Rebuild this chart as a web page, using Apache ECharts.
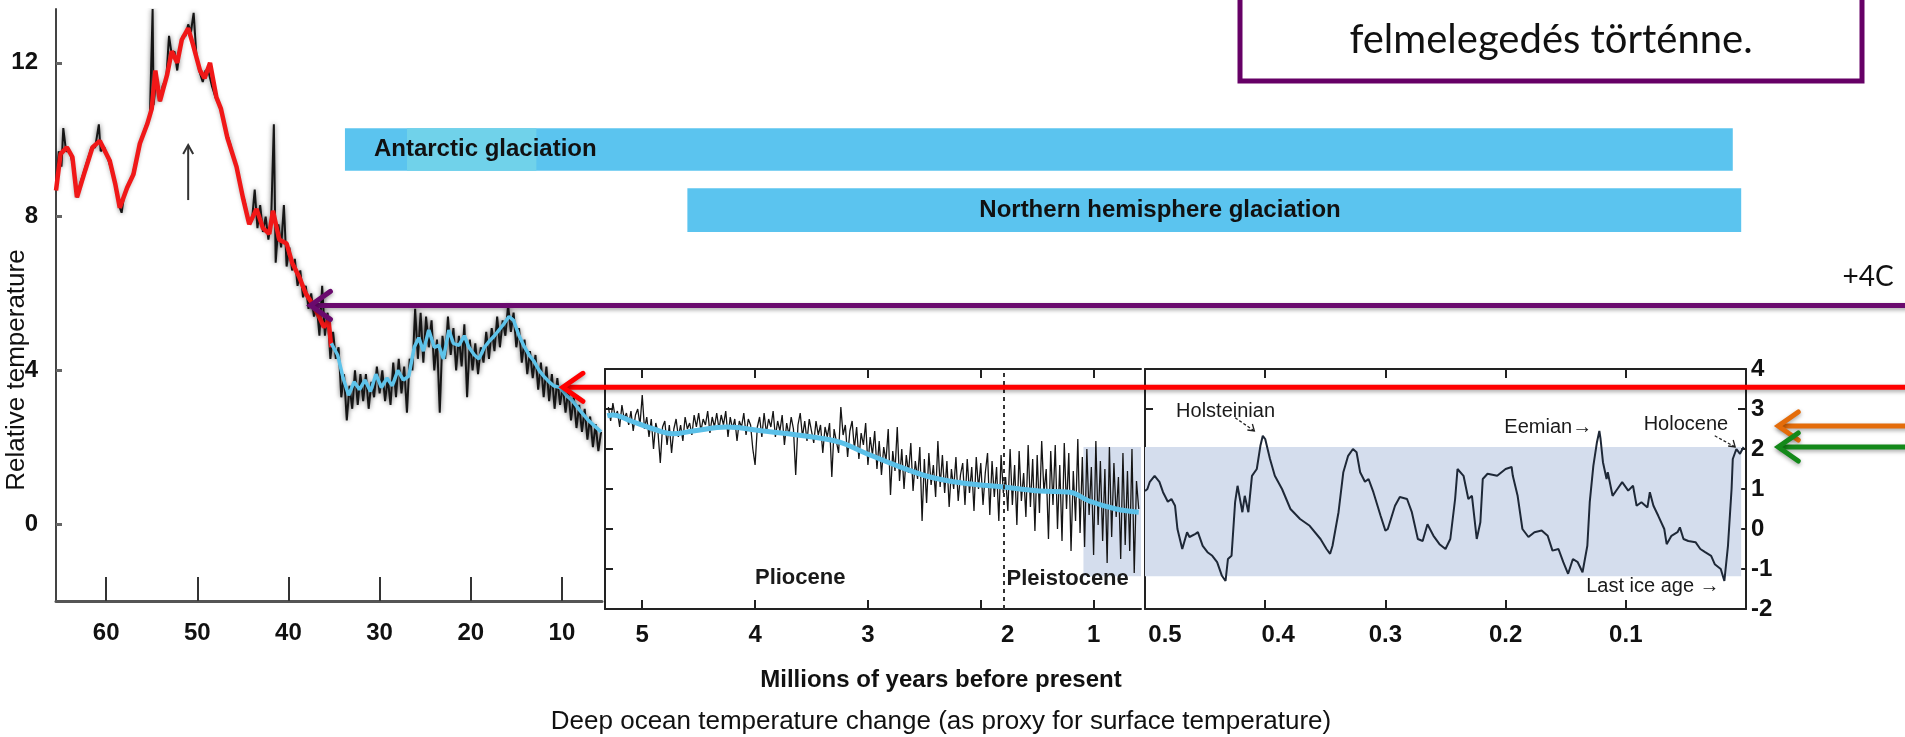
<!DOCTYPE html>
<html><head><meta charset="utf-8">
<script src="https://cdn.jsdelivr.net/npm/echarts@6/dist/echarts.min.js"></script>
<style>html,body{margin:0;padding:0;background:#fff;}#c{width:1905px;height:737px;}</style>
</head><body><div id="c"></div>
<script>
// ---------------- DATA ----------------
// Left panel (65 -> 6 Ma), deep ocean temperature
const leftTicks = [10, 20, 30, 40, 50, 60];
const leftYTicks = [0, 4, 8, 12];
const leftRed = [[65.5,8.68],[65.0,9.63],[64.3,9.8],[63.7,9.55],[63.2,8.5],[62.3,9.2],[61.5,9.8],[60.7,9.97],[59.6,9.45],[59.0,8.85],[58.5,8.23],[57.7,8.75],[57.0,9.1],[56.3,9.9],[55.5,10.4],[55.0,10.8],[54.6,11.8],[54.1,11.0],[53.3,11.7],[52.8,12.3],[52.2,12.0],[51.7,12.6],[51.0,12.9],[50.5,12.5],[49.7,11.8],[49.2,11.6],[48.6,12.0],[47.9,11.1],[47.4,10.8],[46.7,10.05],[45.7,9.3],[45.0,8.5],[44.3,7.8],[43.5,8.2],[42.8,7.7],[42.1,7.55],[41.7,8.15],[41.0,7.4],[40.2,7.3],[39.6,6.8],[38.8,6.42],[38.1,6.0],[37.4,5.74],[36.6,5.38],[36.1,5.12],[35.6,5.3],[35.3,4.6]];
const leftBlue = [[35.3,4.7],[34.6,4.4],[34.0,3.8],[33.4,3.35],[32.8,3.7],[32.2,3.5],[31.6,3.75],[31.0,3.45],[30.4,3.9],[29.8,3.55],[29.2,3.8],[28.6,3.6],[28.0,4.0],[27.4,3.75],[26.8,3.85],[26.2,4.6],[25.7,4.85],[25.2,4.5],[24.6,5.05],[24.0,4.6],[23.5,4.65],[23.0,4.3],[22.4,5.05],[21.9,4.7],[21.3,4.65],[20.7,4.9],[20.2,4.6],[19.6,4.4],[19.1,4.3],[18.5,4.6],[18.0,4.75],[17.4,4.9],[16.9,5.05],[16.4,5.2],[15.8,5.4],[15.3,5.3],[14.7,4.9],[14.2,4.65],[13.6,4.4],[13.1,4.25],[12.5,4.0],[12.0,3.85],[11.4,3.7],[10.9,3.6],[10.2,3.55],[9.5,3.35],[8.8,3.2],[8.0,2.95],[7.1,2.7],[6.4,2.55],[5.7,2.4]];
const leftRaw = [[65.5,8.7],[65.2,9.7],[64.9,9.3],[64.7,10.3],[64.4,9.7],[64.0,9.7],[63.6,9.3],[63.2,8.5],[62.8,8.9],[62.4,9.2],[62.0,9.5],[61.6,9.8],[61.2,9.8],[60.8,10.4],[60.6,9.7],[60.2,9.8],[59.8,9.5],[59.4,9.2],[59.0,8.9],[58.6,8.3],[58.3,8.1],[58.0,8.6],[57.6,8.8],[57.2,9.0],[56.8,9.4],[56.4,9.8],[56.0,10.1],[55.6,10.4],[55.2,10.6],[54.9,13.4],[54.8,10.9],[54.5,11.6],[54.1,11.0],[53.8,11.4],[53.4,11.6],[53.1,12.7],[52.8,12.2],[52.5,12.3],[52.2,11.8],[51.9,12.4],[51.6,12.7],[51.3,12.7],[51.0,13.0],[50.7,12.8],[50.4,13.3],[50.1,12.2],[49.8,11.8],[49.4,11.5],[49.1,11.8],[48.8,11.8],[48.4,11.4],[48.0,11.1],[47.6,10.9],[47.2,10.6],[46.8,10.2],[46.4,9.9],[46.0,9.5],[45.6,9.2],[45.2,8.7],[44.8,8.4],[44.4,7.9],[44.0,7.9],[43.7,8.7],[43.4,7.7],[43.1,8.3],[42.8,7.6],[42.5,8.0],[42.2,7.4],[41.9,7.9],[41.6,10.4],[41.4,6.8],[41.1,7.8],[40.8,7.2],[40.5,8.3],[40.2,6.7],[39.9,7.2],[39.6,6.6],[39.3,6.9],[39.0,6.2],[38.7,6.6],[38.4,5.9],[38.1,6.2],[37.8,5.6],[37.5,6.0],[37.2,5.4],[36.9,5.7],[36.6,4.9],[36.3,6.2],[36.0,4.9],[35.7,5.5],[35.4,4.3],[35.1,5.0],[34.8,4.3],[34.5,4.6],[34.2,3.3],[33.9,3.9],[33.6,2.7],[33.3,3.6],[33.0,3.0],[32.7,4.0],[32.4,3.1],[32.1,3.9],[31.8,3.2],[31.5,3.9],[31.2,3.0],[30.9,3.7],[30.6,3.3],[30.3,4.1],[30.0,3.4],[29.7,4.0],[29.4,3.2],[29.1,3.8],[28.8,3.1],[28.5,4.2],[28.2,3.3],[27.9,4.3],[27.6,3.4],[27.3,4.1],[27.0,2.9],[26.7,4.3],[26.4,4.0],[26.1,5.6],[25.8,4.3],[25.5,5.5],[25.2,4.2],[24.9,5.4],[24.6,4.6],[24.3,5.3],[24.0,4.0],[23.7,4.8],[23.4,2.9],[23.1,4.9],[22.8,4.3],[22.5,5.4],[22.2,4.4],[21.9,5.1],[21.6,4.0],[21.3,4.9],[21.0,4.1],[20.7,5.2],[20.4,3.3],[20.1,4.8],[19.8,4.0],[19.5,4.7],[19.2,3.9],[18.9,4.6],[18.6,4.2],[18.3,5.0],[18.0,4.3],[17.7,5.1],[17.4,4.5],[17.1,5.4],[16.8,4.6],[16.5,5.3],[16.2,4.9],[15.9,5.7],[15.6,5.0],[15.3,5.5],[15.0,4.6],[14.7,5.1],[14.4,4.2],[14.1,4.8],[13.8,3.9],[13.5,4.5],[13.2,3.8],[12.9,4.4],[12.6,3.5],[12.3,4.2],[12.0,3.3],[11.7,4.1],[11.4,3.2],[11.1,3.9],[10.8,3.0],[10.5,3.8],[10.2,3.1],[9.9,3.6],[9.6,2.9],[9.3,3.5],[9.0,2.7],[8.7,3.3],[8.4,2.5],[8.1,3.1],[7.8,2.4],[7.5,3.0],[7.2,2.2],[6.9,2.8],[6.6,2.0],[6.3,2.6],[6.0,1.9],[5.7,2.4]];

// Middle panel (5.3 -> 0.6 Ma)
const midTicks = [1, 2, 3, 4, 5];
const midYTicks = [-1, 0, 1, 2, 3];
const midBlue = [[5.31,2.83],[5.26,2.85],[5.1,2.7],[4.9,2.5],[4.73,2.38],[4.55,2.45],[4.25,2.55],[3.93,2.45],[3.49,2.3],[3.25,2.17],[3.04,1.92],[2.74,1.58],[2.45,1.3],[2.16,1.15],[1.8,1.05],[1.48,0.95],[1.21,0.92],[1.04,0.7],[0.8,0.5],[0.6,0.42]];
const midRawStart = 5.30, midRawStep = 0.02; // sampling of the raw record (Ma)
const midRaw = [
  3.05,2.7,3.15,2.8,2.95,2.55,3.1,2.75,2.9,2.6,
  2.95,2.45,2.85,3.0,2.6,3.35,2.5,2.8,2.3,2.75,
  2.0,2.65,2.4,1.65,2.55,2.7,2.1,2.6,1.9,2.5,
  2.75,2.3,2.6,2.2,2.8,2.5,2.65,2.35,2.85,2.55,
  2.9,2.45,2.75,2.6,2.95,2.4,2.8,2.55,2.9,2.5,
  2.85,2.6,2.95,2.3,2.8,2.5,2.75,2.2,2.7,2.55,
  2.9,2.35,2.75,2.6,2.0,1.6,2.55,2.8,2.3,2.9,
  2.4,2.75,2.55,2.95,2.3,2.7,2.45,2.85,2.1,2.65,
  2.35,2.8,2.5,1.35,2.6,2.9,2.3,2.7,2.2,2.75,
  2.45,2.15,2.7,2.35,2.6,1.9,2.55,2.3,2.65,1.3,
  2.5,2.2,1.9,3.05,2.35,2.6,1.8,2.45,2.7,2.0,
  2.55,1.75,2.4,2.1,2.65,1.6,2.3,1.85,2.45,1.5,
  2.2,1.35,2.05,1.7,2.5,0.85,1.95,1.45,2.55,1.2,
  2.0,1.0,1.85,1.4,2.15,0.95,1.7,1.25,2.05,0.2,
  1.75,0.65,1.9,1.1,1.6,0.8,2.2,1.05,1.85,0.9,
  1.7,0.55,1.5,1.0,1.8,0.7,1.35,1.65,0.6,1.75,
  0.9,1.55,0.45,1.8,1.0,1.65,0.6,1.4,1.9,0.35,
  1.7,0.8,1.55,0.2,1.85,0.9,1.3,0.45,2.0,0.6,
  1.6,0.1,1.95,0.7,1.4,0.3,2.1,0.55,1.75,-0.05,
  1.85,0.4,2.2,0.9,1.5,-0.25,1.95,0.6,2.1,0.0,
  1.6,-0.3,2.15,0.5,1.9,-0.55,1.45,0.2,2.25,-0.1,
  1.8,-0.45,2.0,0.35,1.55,-0.65,2.2,0.1,1.7,-0.3,
  1.5,-0.85,2.05,-0.2,1.65,0.3,1.3,-0.75,1.9,-0.4,
  1.45,-0.55,2.0,-1.1,1.2,0.5];
const pleistoceneBoundary = 1.8;

// Right panel (0.5 -> 0 Ma)
const rightTicks = [0.1, 0.2, 0.3, 0.4];
const rightLabels = [0.1, 0.2, 0.3, 0.4, 0.5];
const rightYLabels = [-2, -1, 0, 1, 2, 3, 4];
const rightLine = [[0.5,0.95],[0.498,1.0],[0.496,1.18],[0.492,1.33],[0.488,1.18],[0.485,0.92],[0.481,0.68],[0.478,0.75],[0.475,0.58],[0.473,0.0],[0.469,-0.5],[0.465,-0.08],[0.463,-0.2],[0.458,-0.12],[0.456,-0.08],[0.452,-0.42],[0.448,-0.58],[0.444,-0.67],[0.44,-0.83],[0.436,-1.17],[0.433,-1.3],[0.431,-0.75],[0.428,-0.67],[0.425,0.68],[0.423,1.08],[0.419,0.42],[0.417,0.83],[0.414,0.42],[0.411,1.33],[0.407,1.5],[0.404,2.08],[0.402,2.33],[0.4,2.25],[0.396,1.75],[0.392,1.33],[0.386,1.0],[0.379,0.5],[0.371,0.25],[0.363,0.08],[0.354,-0.25],[0.349,-0.5],[0.346,-0.62],[0.344,-0.42],[0.339,0.42],[0.335,1.42],[0.331,1.83],[0.327,2.0],[0.324,1.92],[0.321,1.42],[0.317,1.18],[0.314,1.25],[0.31,0.92],[0.304,0.33],[0.3,-0.04],[0.298,0.0],[0.292,0.58],[0.288,0.8],[0.282,0.75],[0.278,0.42],[0.273,-0.25],[0.269,-0.3],[0.265,0.12],[0.26,-0.17],[0.255,-0.38],[0.25,-0.5],[0.246,-0.25],[0.242,0.75],[0.24,1.5],[0.235,1.33],[0.231,0.75],[0.228,0.83],[0.224,-0.25],[0.221,0.17],[0.219,1.25],[0.215,1.38],[0.207,1.33],[0.2,1.5],[0.195,1.55],[0.194,1.33],[0.19,0.83],[0.186,0.0],[0.181,-0.2],[0.176,-0.08],[0.17,-0.04],[0.165,-0.17],[0.161,-0.54],[0.156,-0.5],[0.152,-0.83],[0.148,-1.12],[0.144,-0.75],[0.14,-0.83],[0.136,-1.08],[0.132,-0.42],[0.13,0.67],[0.127,1.58],[0.124,2.17],[0.122,2.45],[0.121,2.25],[0.119,1.67],[0.116,1.25],[0.115,1.42],[0.111,0.83],[0.107,1.0],[0.103,1.17],[0.098,0.96],[0.094,1.08],[0.091,0.58],[0.087,0.67],[0.082,0.54],[0.08,0.92],[0.077,0.58],[0.073,0.33],[0.068,0.0],[0.066,-0.38],[0.062,-0.17],[0.057,-0.08],[0.055,0.04],[0.052,-0.25],[0.048,-0.3],[0.042,-0.33],[0.038,-0.5],[0.034,-0.58],[0.029,-0.67],[0.026,-0.88],[0.021,-1.0],[0.018,-1.3],[0.015,-0.42],[0.012,1.0],[0.011,1.75],[0.008,2.0],[0.005,1.88],[0.002,2.05]];

// Shaded band (glacial-interglacial range)
const shadeRange = {top: 2.05, bottom: -1.18, midFrom: 1.09, rightTo: 0.004};

// Glaciation bars (start/end as [gridIndex, age]; y in left-panel units)
const glacNames = ['Antarctic glaciation', 'Northern hemisphere glaciation'];
const glacStart = [[0, 33.8], [1, 4.6]];
const glacEnd = [[2, 0.011], [2, 0.004]];
const glacY = [[10.30, 9.19], [8.74, 7.60]];
const glacPatch = [27.0, 12.8];

// Reference arrows
const arrowColors = ['#6a0a6e', '#ff0000', '#e46c0a', '#14891a'];
const arrowGrid = [0, 0, 2, 2];
const arrowTip = [37.7, 10.0, -0.026, -0.026];
const arrowLevel = [5.69, 3.56, 2.575, 2.05];

// Event labels in the right/middle panels
const eventLabels = [
  ['Holsteinian', 2, 0.433, 2.95, 'center', 'normal'],
  ['Eemian\u2192', 2, 0.128, 2.55, 'right', 'normal'],
  ['Holocene', 2, 0.05, 2.62, 'center', 'normal'],
  ['Last ice age \u2192', 2, 0.022, -1.43, 'right', 'normal'],
  ['Pliocene', 1, 3.6, -1.22, 'center', 'bold'],
  ['Pleistocene', 1, 1.23, -1.25, 'center', 'bold']
];

// ---------------- CHART ----------------
const FONT = '"Liberation Sans", Arial, sans-serif';
const chart = echarts.init(document.getElementById('c'), null, {renderer: 'canvas'});
const lbl = {fontSize: 24, fontWeight: 'bold', color: '#111', fontFamily: FONT};

const midRawPairs = midRaw.map((v, i) => [+(midRawStart - i * midRawStep).toFixed(3), v]);

function xAxisBase(grid, min, max, ticks, labels, pos, extra) {
  return Object.assign({
    gridIndex: grid, type: 'value', inverse: true, min: min, max: max, position: pos,
    axisLine: {show: true, onZero: false, lineStyle: {color: '#222', width: 2}},
    axisTick: {show: true, inside: true, length: 9, customValues: ticks, lineStyle: {color: '#222', width: 2}},
    axisLabel: labels ? Object.assign({show: true, customValues: labels, margin: 14}, lbl) : {show: false},
    splitLine: {show: false}
  }, extra || {});
}
function yAxisBase(grid, pos, ticks, labels, extra) {
  return Object.assign({
    gridIndex: grid, type: 'value', min: -2, max: 4, position: pos,
    axisLine: {show: true, onZero: false, lineStyle: {color: '#222', width: 2}},
    axisTick: {show: true, inside: true, length: 8, customValues: ticks, lineStyle: {color: '#222', width: 2}},
    axisLabel: labels ? Object.assign({show: true, customValues: labels, margin: 5}, lbl) : {show: false},
    splitLine: {show: false}
  }, extra || {});
}

const option = {
  animation: false,
  backgroundColor: '#fff',
  grid: [
    {left: 56, top: 9, width: 546, height: 592},
    {left: 605, top: 369, width: 536, height: 240},
    {left: 1145, top: 369, width: 601, height: 240}
  ],
  xAxis: [
    {gridIndex: 0, type: 'value', inverse: true, min: 5.6, max: 65.5, position: 'bottom',
     axisLine: {show: true, onZero: false, lineStyle: {color: '#555', width: 3}},
     axisTick: {show: true, inside: true, length: 24, customValues: leftTicks, lineStyle: {color: '#333', width: 2}},
     axisLabel: Object.assign({customValues: leftTicks, margin: 20}, lbl),
     splitLine: {show: false}},
    xAxisBase(1, 0.58, 5.33, midTicks, midTicks, 'bottom', {
      axisLabel: Object.assign({customValues: midTicks, margin: 14,
        formatter: v => v === 2 ? '{s|2}' : String(v),
        rich: {s: Object.assign({padding: [0, 0, 0, 54]}, lbl)}}, lbl)}),
    xAxisBase(1, 0.58, 5.33, midTicks, null, 'top'),
    xAxisBase(2, 0, 0.5, rightTicks, rightLabels, 'bottom', {
      axisLabel: Object.assign({customValues: rightLabels, margin: 14,
        formatter: v => { const t = v.toFixed(1); return v > 0.45 ? '{a|' + t + '}' : (v > 0.35 ? '{b|' + t + '}' : t); },
        rich: {a: Object.assign({padding: [0, 0, 0, 40]}, lbl), b: Object.assign({padding: [0, 0, 0, 26]}, lbl)}}, lbl)}),
    xAxisBase(2, 0, 0.5, rightTicks, null, 'top')
  ],
  yAxis: [
    {gridIndex: 0, type: 'value', min: -2, max: 13.4, position: 'left',
     axisLine: {show: true, onZero: false, lineStyle: {color: '#444', width: 2}},
     axisTick: {show: true, inside: true, length: 6, customValues: leftYTicks, lineStyle: {color: '#666', width: 3}},
     axisLabel: Object.assign({customValues: leftYTicks, margin: 18}, lbl),
     splitLine: {show: false}},
    yAxisBase(1, 'left', midYTicks, null),
    yAxisBase(2, 'left', midYTicks, null),
    yAxisBase(2, 'right', midYTicks, rightYLabels)
  ],
  series: [
    {type: 'line', xAxisIndex: 0, yAxisIndex: 0, data: leftRaw, symbol: 'none', z: 2,
     lineStyle: {color: '#151515', width: 2, shadowBlur: 5, shadowColor: 'rgba(0,0,0,0.6)'}},
    {type: 'line', xAxisIndex: 0, yAxisIndex: 0, data: leftRed, symbol: 'none', z: 3,
     lineStyle: {color: '#f01818', width: 4.5}},
    {type: 'line', xAxisIndex: 0, yAxisIndex: 0, data: leftBlue, symbol: 'none', z: 3,
     lineStyle: {color: '#5ec3ea', width: 3.5}},
    {type: 'line', xAxisIndex: 1, yAxisIndex: 1, data: midRawPairs, symbol: 'none', z: 2,
     lineStyle: {color: '#151515', width: 1.3},
     markArea: {silent: true, itemStyle: {color: '#d4dded'},
       data: [[{xAxis: shadeRange.midFrom, yAxis: shadeRange.top}, {xAxis: 0.58, yAxis: shadeRange.bottom}]]},
     markLine: {silent: true, symbol: 'none', label: {show: false},
       lineStyle: {color: '#333', type: [4, 4], width: 2},
       data: [{xAxis: pleistoceneBoundary}]}},
    {type: 'line', xAxisIndex: 1, yAxisIndex: 1, data: midBlue, symbol: 'none', smooth: 0.4, z: 3,
     lineStyle: {color: '#5bc0e8', width: 5}},
    {type: 'line', xAxisIndex: 3, yAxisIndex: 3, data: rightLine, symbol: 'none', z: 3,
     lineStyle: {color: '#1e2837', width: 2},
     markArea: {silent: true, itemStyle: {color: '#d4dded'},
       data: [[{xAxis: 0.5, yAxis: shadeRange.top}, {xAxis: shadeRange.rightTo, yAxis: shadeRange.bottom}]]}}
  ]
};
chart.setOption(option);

// ---------------- ANNOTATIONS ----------------
function P(g, x, y) { return chart.convertToPixel({gridIndex: g}, [x, y]); }
const W = chart.getWidth();
const G = [];

glacNames.forEach((name, i) => {
  const a = P(glacStart[i][0], glacStart[i][1], 0);
  const b = P(glacEnd[i][0], glacEnd[i][1], 0);
  const yT = P(0, 30, glacY[i][0])[1], yB = P(0, 30, glacY[i][1])[1];
  G.push({type: 'rect', shape: {x: a[0], y: yT, width: b[0] - a[0], height: yB - yT}, style: {fill: '#5bc4ef'}, z: 10});
  if (i === 0) {
    const p1 = P(0, glacPatch[0], 0)[0], p2 = P(0, glacPatch[1], 0)[0];
    G.push({type: 'rect', shape: {x: p1, y: yT, width: p2 - p1, height: yB - yT}, style: {fill: '#70d2ea'}, z: 10});
    G.push({type: 'text', x: a[0] + 29, y: (yT + yB) / 2, z: 11,
      style: {text: name, font: 'bold 24px ' + FONT, fill: '#111', align: 'left', verticalAlign: 'middle'}});
  } else {
    G.push({type: 'text', x: 1160, y: (yT + yB) / 2, z: 11,
      style: {text: name, font: 'bold 24px ' + FONT, fill: '#111', align: 'center', verticalAlign: 'middle'}});
  }
});

arrowColors.forEach((c, i) => {
  const t = P(arrowGrid[i], arrowTip[i], arrowLevel[i]);
  const sh = {shadowBlur: 4, shadowOffsetY: 2, shadowColor: 'rgba(0,0,0,0.35)'};
  G.push({type: 'line', z: 20, shape: {x1: t[0] + 2, y1: t[1], x2: W + 5, y2: t[1]},
    style: Object.assign({stroke: c, lineWidth: 5}, sh)});
  G.push({type: 'polyline', z: 20, shape: {points: [[t[0] + 21, t[1] - 14], [t[0] + 1, t[1]], [t[0] + 21, t[1] + 14]]},
    style: Object.assign({stroke: c, lineWidth: 5, fill: null, lineCap: 'round', lineJoin: 'miter'}, sh)});
});

eventLabels.forEach(e => {
  const p = P(e[1], e[2], e[3]);
  G.push({type: 'text', x: p[0], y: p[1], z: 15,
    style: {text: e[0], font: e[5] + (e[5] === 'bold' ? ' 22px ' : ' 20px ') + FONT, fill: '#1a1a1a', align: e[4], verticalAlign: 'middle'}});
});
[[0.425, 2.78, 0.409, 2.45], [0.026, 2.33, 0.009, 2.05]].forEach(d => {
  const a = P(2, d[0], d[1]), b = P(2, d[2], d[3]);
  G.push({type: 'line', z: 15, shape: {x1: a[0], y1: a[1], x2: b[0], y2: b[1]}, style: {stroke: '#222', lineWidth: 1.3, lineDash: [3, 2]}});
  G.push({type: 'polyline', z: 15, shape: {points: [[b[0] - 7, b[1] - 1], [b[0], b[1]], [b[0] - 2, b[1] - 7]]}, style: {stroke: '#222', lineWidth: 1.3, fill: null}});
});
(function () {
  const a = P(0, 51.0, 8.43), b = P(0, 51.0, 9.86);
  G.push({type: 'line', z: 15, shape: {x1: a[0], y1: a[1], x2: b[0], y2: b[1]}, style: {stroke: '#333', lineWidth: 2}});
  G.push({type: 'polyline', z: 15, shape: {points: [[b[0] - 5, b[1] + 9], [b[0], b[1]], [b[0] + 5, b[1] + 9]]}, style: {stroke: '#333', lineWidth: 2, fill: null}});
})();

G.push({type: 'text', x: 17, y: 370, rotation: Math.PI / 2, z: 15,
  style: {text: 'Relative temperature', font: '26px ' + FONT, fill: '#111', align: 'center', verticalAlign: 'middle'}});
G.push({type: 'text', x: 941, y: 680, z: 15,
  style: {text: 'Millions of years before present', font: 'bold 24px ' + FONT, fill: '#111', align: 'center', verticalAlign: 'middle'}});
G.push({type: 'text', x: 941, y: 722, z: 15,
  style: {text: 'Deep ocean temperature change (as proxy for surface temperature)', font: '26px ' + FONT, fill: '#111', align: 'center', verticalAlign: 'middle'}});

G.push({type: 'rect', z: 30, shape: {x: 1240, y: -20, width: 622, height: 101}, style: {fill: '#fff', stroke: '#660066', lineWidth: 5}});
G.push({type: 'text', x: 1551, y: 40, z: 31,
  style: {text: 'felmelegedés történne.', font: '40px Lato, "Open Sans", sans-serif', fill: '#111', align: 'center', verticalAlign: 'middle'}});
G.push({type: 'text', x: 1868, y: 277, z: 31,
  style: {text: '+4C', font: '28px Lato, "Open Sans", sans-serif', fill: '#111', align: 'center', verticalAlign: 'middle'}});

chart.setOption({graphic: {elements: G}});
</script></body></html>
